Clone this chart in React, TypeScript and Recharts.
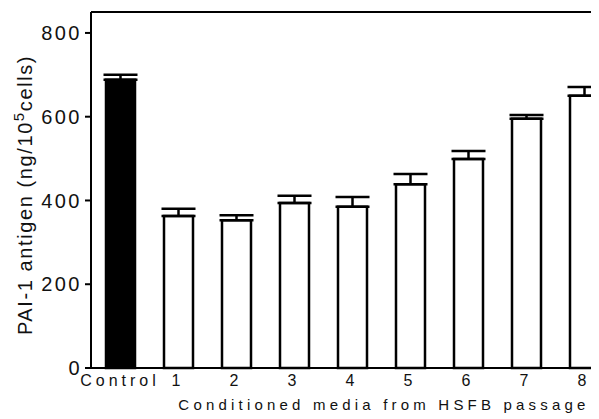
import { BarChart, Bar, XAxis, YAxis, Cell, ErrorBar, ReferenceLine } from 'recharts';

const categories = ['Control', '1', '2', '3', '4', '5', '6', '7', '8'];
const antigen = [688, 363, 353, 394, 385, 439, 499, 595, 650];
const upperErr = [12, 17, 12, 17, 23, 24, 19, 9, 21];
const yTicks = [0, 200, 400, 600, 800];

const data = categories.map((name, i) => ({
  name,
  value: antigen[i],
  err: [0, upperErr[i]],
}));

const font = '"Liberation Sans", Arial, sans-serif';

const XTick = ({ x, y, payload }: any) => (
  <text x={x} y={y} dy="0.71em" textAnchor="middle" fontFamily={font} fontSize={16} letterSpacing={4} fill="#111">
    {payload.value}
  </text>
);

const YTick = ({ x, y, payload }: any) => (
  <text x={x} y={y} dy="0.36em" textAnchor="end" fontFamily={font} fontSize={20} letterSpacing={2.5} fill="#111">
    {payload.value}
  </text>
);

const YLabel = () => (
  <text
    x={24}
    y={187}
    transform="rotate(-90 24 187)"
    textAnchor="middle"
    fontFamily={font}
    fontSize={20}
    letterSpacing={1.6}
    fill="#111"
  >
    PAI-1 antigen (ng/10<tspan dy={-8} fontSize={15}>5</tspan>
    <tspan dy={8}>cells)</tspan>
  </text>
);

const XLabel = () => (
  <text x={376} y={402} textAnchor="middle" fontFamily={font} fontSize={15} letterSpacing={4.2} fill="#111">
    Conditioned media from HSFB passage
  </text>
);

export default function App() {
  return (
    <div style={{ width: 591, height: 411, overflow: 'hidden', background: '#fff' }}>
      <BarChart width={625} height={411} data={data} margin={{ top: 4, right: 20, bottom: 21, left: 0 }}>
        <XAxis
          dataKey="name"
          height={30}
          axisLine={{ stroke: '#000', strokeWidth: 2 }}
          tickLine={false}
          tickSize={0}
          tickMargin={7}
          tick={<XTick />}
          interval={0}
          label={<XLabel />}
        />
        <YAxis
          width={83}
          domain={[0, 850]}
          ticks={yTicks}
          axisLine={{ stroke: '#000', strokeWidth: 2 }}
          tickLine={{ stroke: '#000', strokeWidth: 2 }}
          tickSize={6}
          tickMargin={3}
          tick={<YTick />}
          label={<YLabel />}
        />
        <ReferenceLine y={850} stroke="#000" strokeWidth={2} />
        <Bar dataKey="value" barSize={29} stroke="#000" strokeWidth={2.5} isAnimationActive={false}>
          {data.map((d, i) => (
            <Cell key={d.name} fill={i === 0 ? '#000' : '#fff'} />
          ))}
          <ErrorBar dataKey="err" width={17} stroke="#000" strokeWidth={2.5} direction="y" />
        </Bar>
      </BarChart>
    </div>
  );
}
